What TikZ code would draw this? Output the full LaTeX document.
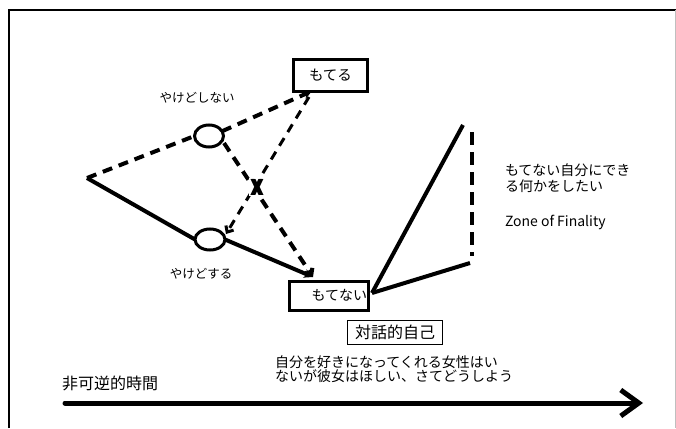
\documentclass[tikz,border=0pt]{standalone}
\usepackage{fontspec}
\setmainfont{Noto Sans CJK JP}
\newfontfamily\xfont{DejaVu Sans}
\usetikzlibrary{arrows.meta,shapes.geometric}
\begin{document}
\begin{tikzpicture}[x=1pt,y=-1pt,
  every node/.style={inner sep=0pt, outer sep=0pt},
  frameline/.style={line width=2.5pt},
  solidline/.style={line width=4pt},
  dashline/.style={line width=4pt, dash pattern=on 10pt off 7pt},
  boxthick/.style={draw, line width=3pt, rectangle},
  ring/.style={draw, line width=3pt, ellipse},
  smalllabel/.style={font=\fontsize{12.5}{14}\selectfont},
  filledtip/.style={-{Stealth[length=9pt,width=9pt]}},
  barbtip/.style={-{Straight Barb[length=5pt,width=9pt]}},
]
\useasboundingbox (0,0) rectangle (676,428);
\draw[frameline] (9,428) -- (9,10) -- (676,10);
\draw[line width=1pt, black!25] (675,10) -- (675,428);

% boxes
\node[boxthick, minimum width=74pt, minimum height=32pt] (motero) at (330.5,75.5) {\fontsize{14.5}{14.5}\selectfont もてる};
\node[boxthick, minimum width=79pt, minimum height=29pt] (motenai) at (329,296) {};
\node[anchor=east, font=\fontsize{14}{14}\selectfont] (motenaitext) at (367,295) {もてない};
\node[draw, line width=1pt, minimum width=95pt, minimum height=24pt] (taiwa) at (395,332.5) {\fontsize{16}{16}\selectfont 対話的自己};

% circles
\node[ring, minimum width=29pt, minimum height=22pt] (U) at (209,136) {};
\node[ring, minimum width=30pt, minimum height=21pt] (L) at (210,239.5) {};

% labels
\node[smalllabel] (ys) at (197,98) {やけどしない};
\node[smalllabel] (yd) at (201,274) {やけどする};
\node[anchor=west, align=left, font=\fontsize{14}{16}\selectfont] (wish) at (505,178) {もてない自分にでき\\る何かをしたい};
\node[anchor=west, font=\fontsize{14}{14}\selectfont] (zone) at (505,222) {Zone of Finality};
\node[anchor=west, align=left, font=\fontsize{14}{14}\selectfont] (want) at (275,369) {自分を好きになってくれる女性はい\\ないが彼女はほしい、さてどうしよう};
\node[anchor=west, font=\fontsize{16}{16}\selectfont] (time) at (62,383) {非可逆的時間};

% coordinates
\coordinate (V) at (87,178);
\coordinate (T1) at (312,91);
\coordinate (T2) at (313,277);
\coordinate (S3) at (224,143);
\coordinate (S4) at (309,97);
\coordinate (E4) at (226,234);
\coordinate (M) at (372,293);
\coordinate (P1) at (463,125);
\coordinate (P2) at (470,263);
\coordinate (D1) at (472,132);
\coordinate (D2) at (472,256);
\coordinate (A0) at (65,403);
\coordinate (A1) at (643,403);

% dashed branches
\draw[dashline] (V) -- (U.west);
\draw[dashline, filledtip] (U.20) -- (T1);
\draw[dashline, barbtip] (S3) -- (T2);
\draw[line width=3pt, dash pattern=on 9pt off 7pt, barbtip] (S4) -- (E4);

% solid branches
\draw[solidline] (V) -- (L.west);
\draw[solidline, filledtip] (L.east) -- (T2);
\draw[solidline] (M) -- (P1);
\draw[solidline] (M) -- (P2);
\draw[line width=3.5pt, dash pattern=on 13pt off 7pt] (D1) -- (D2);

% cross mark (bold by overprinting)
\node[fill=white, inner sep=1pt, xscale=0.7] (xmark) at (257,187)
  {\fontsize{22}{22}\selectfont\xfont\bfseries\rlap{X}\kern0.9pt\rlap{X}\kern0.9pt\rlap{X}\kern0.9pt X};

% time axis
\draw[line width=5pt, line cap=round, -{Straight Barb[length=18pt,width=26pt]}] (A0) -- (A1);
\end{tikzpicture}
\end{document}
